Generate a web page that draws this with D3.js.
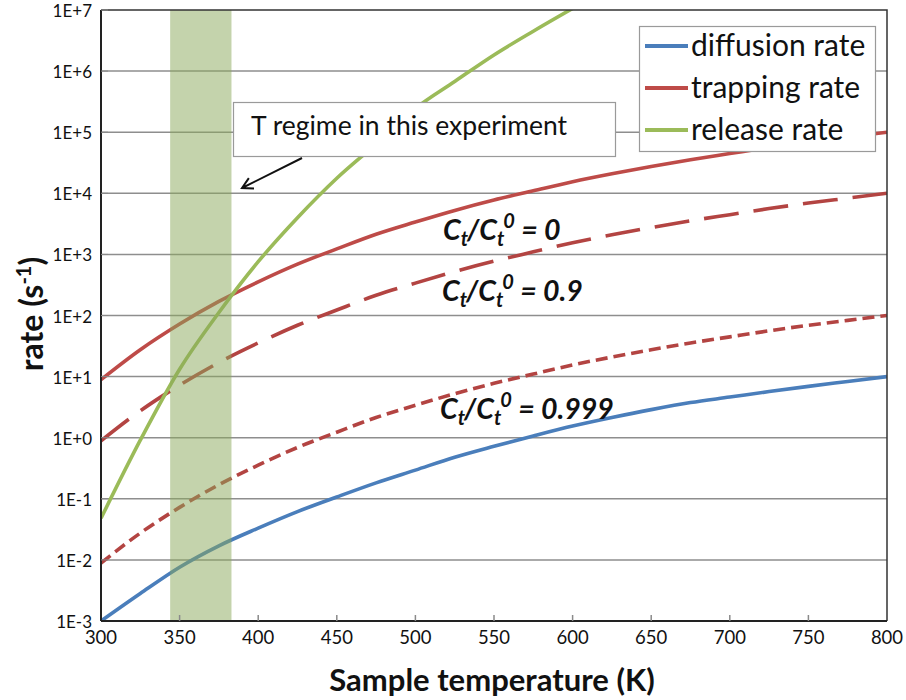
<!DOCTYPE html>
<html>
<head>
<meta charset="utf-8">
<script src="https://cdn.jsdelivr.net/npm/d3@7"></script>
<style>
  body { margin: 0; background: #fff; }
  svg { display: block; }
  text { font-family: Lato, "Open Sans", "DejaVu Sans", sans-serif; fill: #111; }
</style>
</head>
<body>
<svg id="chart" width="906" height="700"></svg>
<script>
// Temperatures (K) at which the rates are tabulated
const temperatures = [300, 325, 350, 375, 400, 425, 450, 475, 500, 525, 550,
                      575, 600, 625, 650, 675, 700, 725, 750, 775, 800];

// Diffusion rate (s^-1)
const diffusionRate = [0.001, 0.00282, 0.00759, 0.0170, 0.0331, 0.0617, 0.107,
                       0.182, 0.295, 0.479, 0.724, 1.07, 1.55, 2.14, 2.88, 3.76,
                       4.62, 5.69, 6.92, 8.32, 10.0];

// Trapping rate (s^-1) for three trap occupancies Ct/Ct0
const trappingRate0 = [8.9, 27.5, 72.4, 170, 355, 692, 1230, 2140, 3390, 5250,
                       7760, 11000, 15500, 20900, 27500, 35500, 44700, 56200,
                       69200, 83200, 100000];
const trappingRate09 = [0.89, 2.75, 7.24, 17.0, 35.5, 69.2, 123, 214, 339, 525,
                        776, 1100, 1550, 2090, 2750, 3550, 4470, 5620, 6920,
                        8320, 10000];
const trappingRate0999 = [0.0089, 0.0275, 0.0724, 0.170, 0.355, 0.692, 1.23,
                          2.14, 3.39, 5.25, 7.76, 11.0, 15.5, 20.9, 27.5, 35.5,
                          44.7, 56.2, 69.2, 83.2, 100];

// Release rate (s^-1); it leaves the top of the axis near 600 K
const releaseTemperatures = [300, 325, 350, 375, 400, 425, 450, 475, 500, 525,
                             550, 575, 600];
const releaseRate = [0.048, 0.91, 13.2, 112, 759, 3980, 17600, 64000, 245000,
                     676000, 1840000, 4500000, 10600000];

// Temperature window of the experiment (K)
const regimeRange = [344, 383];

// Axis ticks and labels
const xTicks = [300, 350, 400, 450, 500, 550, 600, 650, 700, 750, 800];
const yTicks = [1e-3, 1e-2, 1e-1, 1e0, 1e1, 1e2, 1e3, 1e4, 1e5, 1e6, 1e7];
const yTickLabels = ["1E-3", "1E-2", "1E-1", "1E+0", "1E+1", "1E+2", "1E+3",
                     "1E+4", "1E+5", "1E+6", "1E+7"];

const seriesNames = ["diffusion rate", "trapping rate", "release rate"];
const ratioLabels = ["0", "0.9", "0.999"];
const annotationText = "T regime in this experiment";
const xTitle = "Sample temperature (K)";

// ---------------------------------------------------------------------------
const colors = { diffusion: "#4a7ebb", trapping: "#be4b48", trappingDash: "#b34442", release: "#9bbb59" };
const plot = { left: 101, right: 887, top: 10, bottom: 621 };

const svg = d3.select("#chart");

const x = d3.scaleLinear().domain([300, 800]).range([plot.left, plot.right]);
const y = d3.scaleLog().domain([1e-3, 1e7]).range([plot.bottom, plot.top]);

svg.append("defs").append("clipPath").attr("id", "plotClip")
  .append("rect")
  .attr("x", plot.left).attr("y", plot.top)
  .attr("width", plot.right - plot.left).attr("height", plot.bottom - plot.top);

// Horizontal gridlines at each decade
svg.append("g")
  .selectAll("line")
  .data(yTicks.slice(1, -1))
  .join("line")
  .attr("x1", plot.left).attr("x2", plot.right)
  .attr("y1", d => y(d)).attr("y2", d => y(d))
  .attr("stroke", "#8e8e8e").attr("stroke-width", 1.5);

// Curves
const line = d3.line().curve(d3.curveMonotoneX);
const curves = svg.append("g").attr("clip-path", "url(#plotClip)");

function drawCurve(xs, ys, color, dash) {
  curves.append("path")
    .attr("d", line(xs.map((t, i) => [x(t), y(ys[i])])))
    .attr("fill", "none")
    .attr("stroke", color)
    .attr("stroke-width", 3.6)
    .attr("stroke-dasharray", dash || null);
}

drawCurve(temperatures, diffusionRate, colors.diffusion);
drawCurve(temperatures, trappingRate0999, colors.trappingDash, "12,6");
drawCurve(temperatures, trappingRate09, colors.trappingDash, "35,15");
drawCurve(temperatures, trappingRate0, colors.trapping);
drawCurve(releaseTemperatures, releaseRate, colors.release);

// Shaded temperature window, laid translucently over the curves
svg.append("rect")
  .attr("x", x(regimeRange[0]))
  .attr("width", x(regimeRange[1]) - x(regimeRange[0]))
  .attr("y", plot.top)
  .attr("height", plot.bottom - plot.top)
  .attr("fill", "rgb(137,167,89)")
  .attr("fill-opacity", 0.5);

// Frame: top and right edges
svg.append("path")
  .attr("d", `M${plot.left},${plot.top}H${plot.right}V${plot.bottom}`)
  .attr("fill", "none").attr("stroke", "#333").attr("stroke-width", 1.5);

// Y axis (log) with inner minor ticks
const yAxis = svg.append("g");
yAxis.append("line")
  .attr("x1", plot.left).attr("x2", plot.left)
  .attr("y1", plot.top).attr("y2", plot.bottom)
  .attr("stroke", "#222").attr("stroke-width", 2);
yAxis.selectAll("line.tick")
  .data(y.ticks())
  .join("line")
  .attr("class", "tick")
  .attr("x1", plot.left)
  .attr("x2", d => plot.left + (yTicks.includes(d) ? 7 : 5))
  .attr("y1", d => y(d)).attr("y2", d => y(d))
  .attr("stroke", "#8a8a8a").attr("stroke-width", 1);
yAxis.selectAll("text")
  .data(yTicks)
  .join("text")
  .attr("x", plot.left - 9)
  .attr("y", d => y(d) + 7)
  .attr("text-anchor", "end")
  .attr("font-size", 17)
  .text((d, i) => yTickLabels[i]);

// X axis with inner ticks
const xAxis = svg.append("g");
xAxis.append("line")
  .attr("x1", plot.left).attr("x2", plot.right)
  .attr("y1", plot.bottom).attr("y2", plot.bottom)
  .attr("stroke", "#222").attr("stroke-width", 2);
xAxis.selectAll("line.tick")
  .data(xTicks.slice(1, -1))
  .join("line")
  .attr("class", "tick")
  .attr("x1", d => x(d)).attr("x2", d => x(d))
  .attr("y1", plot.bottom).attr("y2", plot.bottom - 6)
  .attr("stroke", "#8a8a8a").attr("stroke-width", 1.5);
xAxis.selectAll("text")
  .data(xTicks)
  .join("text")
  .attr("x", d => x(d))
  .attr("y", 644)
  .attr("text-anchor", "middle")
  .attr("font-size", 18.5)
  .text(d => d);

// Axis titles
svg.append("text")
  .attr("x", (plot.left + plot.right) / 2 - 2)
  .attr("y", 691)
  .attr("text-anchor", "middle")
  .attr("font-size", 31)
  .attr("font-weight", "bold")
  .text(xTitle);

const yTitle = svg.append("text")
  .attr("transform", "translate(43,314) rotate(-90)")
  .attr("text-anchor", "middle")
  .attr("font-size", 32)
  .attr("font-weight", "bold");
yTitle.append("tspan").text("rate (s");
yTitle.append("tspan").attr("font-size", 20).attr("dy", -12).text("-1");
yTitle.append("tspan").attr("dy", 12).text(")");

// Occupancy labels next to the trapping curves
const ratioPositions = [[443, 240], [442, 301], [440, 419]];
ratioLabels.forEach((r, i) => {
  const t = svg.append("text")
    .attr("x", ratioPositions[i][0]).attr("y", ratioPositions[i][1])
    .attr("font-size", 28.5).attr("font-weight", "bold").attr("font-style", "italic");
  t.append("tspan").text("C");
  t.append("tspan").attr("font-size", 20).attr("dy", 6).text("t");
  t.append("tspan").attr("dy", -6).attr("dx", -1).text("/C");
  t.append("tspan").attr("font-size", 20).attr("dy", 6).text("t");
  t.append("tspan").attr("font-size", 20).attr("dy", -18).attr("dx", -1).text("0");
  t.append("tspan").attr("dy", 12).text(" = " + r);
});

// Annotation box and arrow
svg.append("rect")
  .attr("x", 233.5).attr("y", 102.5).attr("width", 382).attr("height", 54)
  .attr("fill", "#fff").attr("stroke", "#9a9a9a").attr("stroke-width", 1.2);
svg.append("text")
  .attr("x", 251).attr("y", 135)
  .attr("font-size", 26.5)
  .text(annotationText);

const arrowFrom = [302, 158], arrowTo = [242, 188];
const ang = Math.atan2(arrowTo[1] - arrowFrom[1], arrowTo[0] - arrowFrom[0]);
const head = 12, spread = 0.5;
svg.append("path")
  .attr("d", `M${arrowFrom[0]},${arrowFrom[1]}L${arrowTo[0]},${arrowTo[1]}` +
    `M${arrowTo[0] - head * Math.cos(ang - spread)},${arrowTo[1] - head * Math.sin(ang - spread)}` +
    `L${arrowTo[0]},${arrowTo[1]}` +
    `L${arrowTo[0] - head * Math.cos(ang + spread)},${arrowTo[1] - head * Math.sin(ang + spread)}`)
  .attr("fill", "none").attr("stroke", "#111").attr("stroke-width", 2);

// Legend
const legend = svg.append("g");
legend.append("rect")
  .attr("x", 639.5).attr("y", 26.5).attr("width", 236).attr("height", 125)
  .attr("fill", "#fff").attr("stroke", "#9a9a9a").attr("stroke-width", 1.2);
const legendColors = [colors.diffusion, colors.trapping, colors.release];
const rowY = [46, 88, 130];
seriesNames.forEach((name, i) => {
  legend.append("line")
    .attr("x1", 645).attr("x2", 688)
    .attr("y1", rowY[i]).attr("y2", rowY[i])
    .attr("stroke", legendColors[i]).attr("stroke-width", 4);
  legend.append("text")
    .attr("x", 691).attr("y", rowY[i]).attr("dy", "0.33em")
    .attr("font-size", 30)
    .text(name);
});
</script>
</body>
</html>
